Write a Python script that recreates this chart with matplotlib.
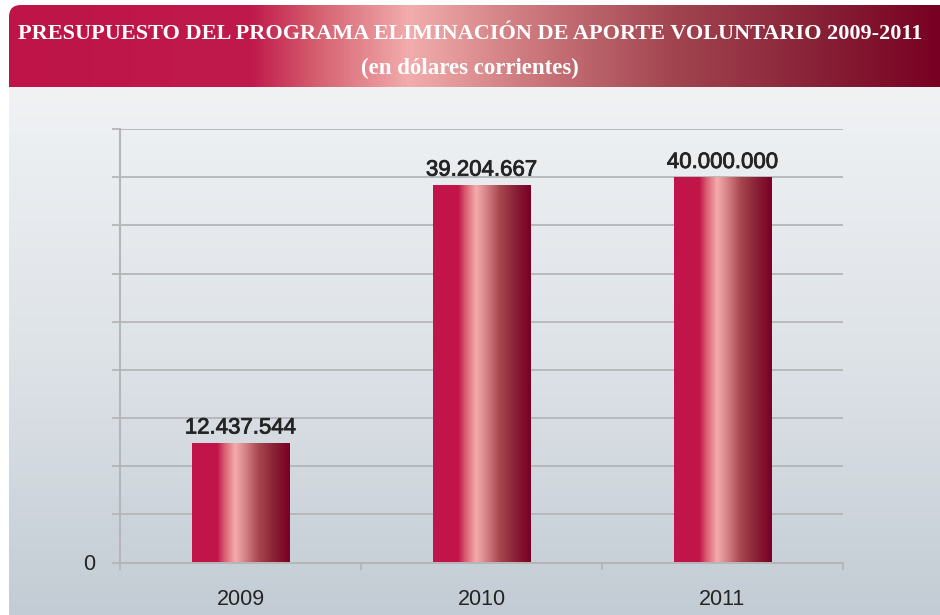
import matplotlib
matplotlib.use("Agg")
import matplotlib.pyplot as plt
import matplotlib.patheffects as pe
import numpy as np
from matplotlib.colors import LinearSegmentedColormap
from matplotlib.patches import FancyBboxPatch
from matplotlib.ticker import FixedLocator, FuncFormatter

# ---- data ----
categories = ["2009", "2010", "2011"]
values = [12437544, 39204667, 40000000]
title = "PRESUPUESTO DEL PROGRAMA ELIMINACIÓN DE APORTE VOLUNTARIO 2009-2011"
subtitle = "(en dólares corrientes)"

W, H = 940, 615
fig = plt.figure(figsize=(W / 100, H / 100), dpi=100, facecolor="white")

# ---- background layer (pixel coordinates) ----
bg = fig.add_axes([0, 0, 1, 1], zorder=-10)
bg.set_xlim(0, W)
bg.set_ylim(H, 0)
bg.axis("off")

banner_cmap = LinearSegmentedColormap.from_list("banner", [
    (0.00, "#BE1448"), (0.26, "#C01A4C"), (0.33, "#D5606F"),
    (0.43, "#F2ADAC"), (0.55, "#CF7C80"), (0.72, "#A1434F"),
    (0.88, "#861F35"), (1.00, "#780022")])
grad = np.linspace(0, 1, 512).reshape(1, -1)
clip = FancyBboxPatch((9, 5), 980, 100, boxstyle="round,pad=0,rounding_size=12",
                      transform=bg.transData, facecolor="none", edgecolor="none")
bg.add_patch(clip)
im = bg.imshow(grad, cmap=banner_cmap, aspect="auto", extent=[9, W, 100, 5],
               zorder=1, interpolation="bilinear")
im.set_clip_path(clip)

gray_cmap = LinearSegmentedColormap.from_list("gray", ["#F0F2F4", "#DEE3E8", "#C3CCD4"])
vgrad = np.linspace(0, 1, 256).reshape(-1, 1)
bg.imshow(vgrad, cmap=gray_cmap, aspect="auto", extent=[9, W, H, 87.5],
          zorder=2, interpolation="bilinear")

title_font = dict(family="Liberation Serif", weight="bold", color="white")
bg.text(470, 34, title, ha="center", va="center", fontsize=16, zorder=5, **title_font)
bg.text(470, 68, subtitle, ha="center", va="center", fontsize=16.5, zorder=5, **title_font)

# ---- chart ----
ax = fig.add_axes([120 / W, (H - 562.5) / H, (843 - 120) / W, (562.5 - 129) / H])
ax.patch.set_alpha(0)
x = np.arange(len(categories))
bars = ax.bar(x, values, width=0.405, facecolor="none", edgecolor="none", zorder=3)

bar_cmap = LinearSegmentedColormap.from_list("bar", [
    (0.00, "#C0144A"), (0.26, "#C2164B"), (0.33, "#D85D71"),
    (0.44, "#F5ABAB"), (0.52, "#DC8D90"), (0.68, "#A8474F"),
    (0.84, "#8A2137"), (1.00, "#780024")])
for b in bars:
    bim = ax.imshow(grad, cmap=bar_cmap, aspect="auto", interpolation="bilinear",
                    extent=[b.get_x(), b.get_x() + b.get_width(), 0, b.get_height()],
                    zorder=3)
    bim.set_clip_path(b)

ax.set_xlim(-0.5, len(categories) - 0.5)
ax.set_ylim(0, 45e6)
ax.set_aspect("auto")

labels = [f"{v:,}".replace(",", ".") for v in values]
txts = ax.bar_label(bars, labels=labels, padding=3, fontsize=16, color="#242424",
                    family="Liberation Sans")
for t in txts:
    t.set_path_effects([pe.withStroke(linewidth=0.6, foreground="#242424")])

gridc = "#B4B6B8"
ax.yaxis.set_major_locator(FixedLocator(np.arange(0, 45e6 + 1, 5e6)))
ax.yaxis.set_major_formatter(FuncFormatter(lambda v, p: "0" if v == 0 else ""))
ax.grid(axis="y", color=gridc, lw=1.3, zorder=1)
ax.tick_params(axis="y", length=6, width=1.3, color=gridc, pad=12,
               labelsize=15.5, labelcolor="#242424")
ax.set_xticks(x, categories)
ax.set_xticks(np.arange(-0.5, len(categories)), minor=True)
ax.tick_params(axis="x", which="major", length=0, pad=19, labelsize=15.5,
               labelcolor="#242424")
ax.tick_params(axis="x", which="minor", length=5, width=1.3, color=gridc)
for lab in ax.get_xticklabels() + ax.get_yticklabels():
    lab.set_family("Liberation Sans")
for s in ["top", "right"]:
    ax.spines[s].set_visible(False)
for s in ["left", "bottom"]:
    ax.spines[s].set_color(gridc)
    ax.spines[s].set_linewidth(1.5)

fig.savefig("out.png", dpi=100)
